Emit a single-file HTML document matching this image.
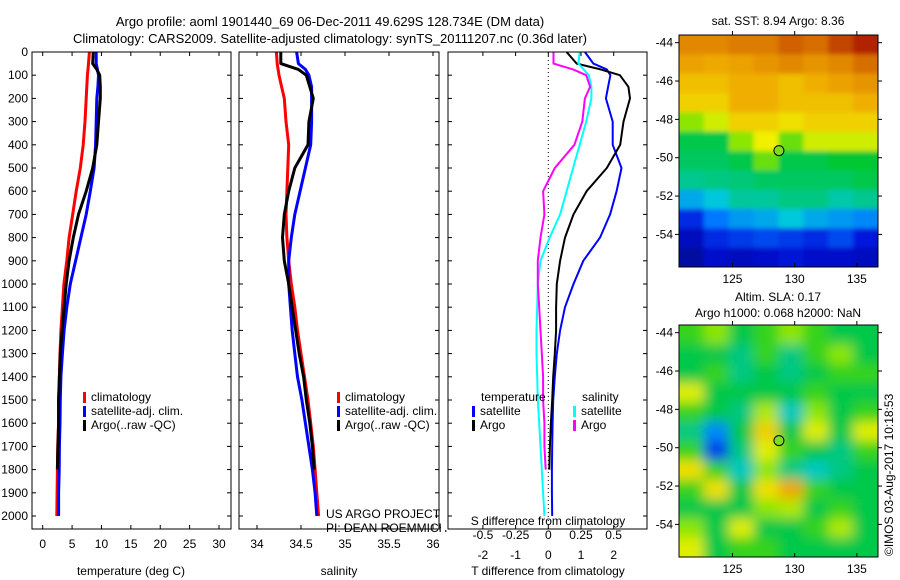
<!DOCTYPE html>
<html><head><meta charset="utf-8"><style>
body{margin:0;background:#fff;}
svg{display:block;font-family:"Liberation Sans",sans-serif;}
text{fill:#000;}
</style></head><body>
<svg id="fig" width="900" height="580" viewBox="0 0 900 580" xmlns="http://www.w3.org/2000/svg">
<defs>
<filter id="blur1" x="-5%" y="-5%" width="110%" height="110%"><feGaussianBlur stdDeviation="2.5"/></filter>
<filter id="blur2" x="-5%" y="-5%" width="110%" height="110%"><feGaussianBlur stdDeviation="6"/></filter>
<clipPath id="clip1"><rect x="679" y="35" width="199" height="232"/></clipPath>
<clipPath id="clip2"><rect x="679" y="325" width="199" height="232"/></clipPath>
</defs>
<text x="330" y="26" font-size="13" text-anchor="middle">Argo profile: aoml 1901440_69 06-Dec-2011 49.629S 128.734E (DM data)</text>
<text x="330" y="43" font-size="13" text-anchor="middle">Climatology: CARS2009. Satellite-adjusted climatology: synTS_20111207.nc (0.36d later)</text>
<text x="326" y="518" font-size="12">US ARGO PROJECT</text>
<text x="326" y="532" font-size="12">PI: DEAN ROEMMICH</text>
<g id="g1"></g>
<g id="g2"></g>
<g id="g3"></g>
<g id="m1"></g>
<g id="m2"></g>
<text x="778" y="25" font-size="12" text-anchor="middle">sat. SST: 8.94 Argo: 8.36</text>
<text x="778" y="301" font-size="12" text-anchor="middle">Altim. SLA: 0.17</text>
<text x="778" y="317" font-size="12" text-anchor="middle">Argo h1000: 0.068 h2000: NaN</text>
<text x="0" y="0" font-size="12" transform="translate(893,556) rotate(-90)">©IMOS 03-Aug-2017 10:18:53</text>
</svg>
<script>
const depths=[0,50,75,100,150,200,300,400,500,600,700,800,900,1000,1100,1200,1300,1400,1500,1600,1700,1800,1900,2000];
const tClim=[7.95,7.8,7.7,7.6,7.5,7.4,7.2,6.9,6.4,5.7,5.1,4.5,4.1,3.6,3.35,3.1,2.95,2.85,2.7,2.7,2.55,2.5,2.45,2.4];
const tSat=[9.1,9.1,9.3,9.5,9.4,9.2,9.1,9.0,8.75,8.1,7.4,6.5,5.6,4.7,4.1,3.65,3.35,3.1,3.0,2.95,2.85,2.8,2.7,2.7];
const tArgo=[8.6,8.5,9.2,9.7,9.8,9.8,9.5,9.2,8.5,7.4,6.1,5.2,4.5,4.0,3.65,3.3,3.0,2.85,2.7,2.7,2.6,2.5,null,null];
const sClim=[34.22,34.23,34.24,34.25,34.28,34.31,34.33,34.36,34.35,34.34,34.33,34.34,34.36,34.39,34.43,34.46,34.5,34.54,34.58,34.61,34.64,34.66,34.68,34.7];
const sSat=[34.45,34.47,34.55,34.59,34.62,34.62,34.62,34.61,34.55,34.49,34.43,34.39,34.36,34.36,34.38,34.4,34.43,34.46,34.51,34.55,34.59,34.63,34.66,34.68];
const sArgo=[34.27,34.27,34.47,34.56,34.6,34.64,34.59,34.58,34.43,34.36,34.31,34.29,34.31,34.36,34.4,34.44,34.48,34.53,34.56,34.6,34.63,34.65,null,null];
const dTSat=[1.12,1.38,1.79,1.9,1.83,1.76,1.97,1.97,2.24,2.09,1.89,1.58,1.07,0.77,0.51,0.36,0.26,0.2,0.15,0.13,0.12,0.11,0.11,0.12];
const dTArgo=[0.56,0.87,1.6,2.19,2.45,2.5,2.3,2.2,1.79,1.17,0.77,0.51,0.36,0.26,0.24,0.24,0.2,0.15,0.12,0.08,0.05,0.03,null,null];
const dSSat=[0.24,0.23,0.27,0.31,0.33,0.33,0.29,0.24,0.19,0.14,0.09,0.01,-0.06,-0.08,-0.085,-0.09,-0.09,-0.085,-0.08,-0.07,-0.06,-0.05,-0.04,-0.03];
const dSArgo=[0.04,0.04,0.19,0.29,0.32,0.28,0.26,0.2,0.05,-0.04,-0.03,-0.06,-0.08,-0.08,-0.07,-0.06,-0.05,-0.04,-0.04,-0.03,-0.03,-0.02,null,null];
const depthTicks=[0,100,200,300,400,500,600,700,800,900,1000,1100,1200,1300,1400,1500,1600,1700,1800,1900,2000];
const tTicks=[0,5,10,15,20,25,30];
const sTicks=[34,34.5,35,35.5,36];
const sTickLabels=["34","34.5","35","35.5","36"];
const dTTicks=[-2,-1,0,1,2];
const dSTicks=[-0.5,-0.25,0,0.25,0.5];
const dSTickLabels=["-0.5","-0.25","0","0.25","0.5"];
const lonTicks=[125,130,135];
const latTicks=[-44,-46,-48,-50,-52,-54];
const sstGrid=[
[0.8,0.8,0.82,0.82,0.86,0.84,0.9,0.95],
[0.76,0.75,0.76,0.78,0.8,0.78,0.8,0.84],
[0.72,0.72,0.74,0.74,0.72,0.74,0.76,0.78],
[0.7,0.7,0.74,0.74,0.72,0.72,0.72,0.74],
[0.6,0.64,0.7,0.7,0.68,0.7,0.7,0.7],
[0.5,0.5,0.6,0.66,0.58,0.64,0.64,0.64],
[0.48,0.48,0.5,0.58,0.5,0.5,0.52,0.52],
[0.44,0.45,0.46,0.48,0.48,0.48,0.48,0.5],
[0.34,0.38,0.43,0.43,0.45,0.45,0.42,0.44],
[0.18,0.28,0.32,0.34,0.38,0.34,0.32,0.3],
[0.1,0.18,0.2,0.22,0.2,0.18,0.22,0.15],
[0.05,0.12,0.1,0.12,0.14,0.12,0.12,0.1]];
const slaGrid=[
[0.55,0.6,0.5,0.55,0.6,0.55,0.5,0.5],
[0.5,0.5,0.45,0.55,0.45,0.55,0.6,0.5],
[0.5,0.55,0.45,0.5,0.45,0.5,0.55,0.55],
[0.65,0.5,0.5,0.5,0.5,0.55,0.5,0.5],
[0.55,0.5,0.45,0.62,0.4,0.6,0.5,0.55],
[0.45,0.3,0.5,0.7,0.5,0.65,0.5,0.65],
[0.55,0.2,0.45,0.65,0.55,0.5,0.45,0.55],
[0.68,0.55,0.4,0.6,0.45,0.4,0.45,0.5],
[0.55,0.68,0.5,0.68,0.75,0.55,0.5,0.5],
[0.5,0.5,0.5,0.6,0.62,0.5,0.55,0.5],
[0.6,0.5,0.65,0.5,0.5,0.55,0.62,0.5],
[0.65,0.5,0.55,0.55,0.5,0.5,0.5,0.5]];
const argoLon=128.734, argoLat=-49.629;

const NS="http://www.w3.org/2000/svg";
function mk(parent,tag,attrs,txt){const e=document.createElementNS(NS,tag);for(const k in attrs)e.setAttribute(k,attrs[k]);if(txt!==undefined)e.textContent=txt;parent.appendChild(e);return e;}
const Y0=52,Y1=529;
const yD=d=>Y0+d*(516-52)/2000;

function frame(g,x0,x1,name){
  const r=mk(g,'rect',{x:x0,y:Y0,width:x1-x0,height:Y1-Y0,fill:'none',stroke:'#000','stroke-width':1});
  
  
}
function line(g,xs,xf,color,w,name){
  let pts=[];
  for(let i=0;i<depths.length;i++){if(xs[i]==null)continue;pts.push(xf(xs[i]).toFixed(1)+','+yD(depths[i]).toFixed(1));}
  const p=mk(g,'polyline',{points:pts.join(' '),fill:'none',stroke:color,'stroke-width':w,'stroke-linejoin':'round'});
  
  
}
function xTicks(g,vals,labels,xf,yb,name){
  vals.forEach((v,i)=>{const x=xf(v);
    mk(g,'line',{x1:x,x2:x,y1:Y1,y2:Y1-4,stroke:'#000'});mk(g,'line',{x1:x,x2:x,y1:Y0,y2:Y0+4,stroke:'#000'});
    const t=mk(g,'text',{x:x,y:yb,'font-size':12,'text-anchor':'middle'},labels[i]);
    
    
  });
}
function yTicks(g,x0,x1,labels){
  depthTicks.forEach(d=>{const y=yD(d);
    mk(g,'line',{x1:x0,x2:x0+4,y1:y,y2:y,stroke:'#000'});mk(g,'line',{x1:x1,x2:x1-4,y1:y,y2:y,stroke:'#000'});
    if(labels){const t=mk(g,'text',{x:x0-4,y:y+4,'font-size':12,'text-anchor':'end'},String(d));
      
      }
  });
}
function legend(g,x,y,items){
  items.forEach((it,i)=>{const yy=y+i*14;
    mk(g,'rect',{x:x,y:yy-9,width:3,height:11,fill:it[1]});
    const t=mk(g,'text',{x:x+8,y:yy,'font-size':12},it[0]);
    
    
  });
}
// Panel 1
const g1=document.getElementById('g1');
const xT=v=>42.7+v*(219-42.7)/30;
yTicks(g1,32,231,true);xTicks(g1,tTicks,tTicks.map(String),xT,548,'temperature-tick-label');
line(g1,tClim,xT,'#f00',3,'temperature-climatology-line');
line(g1,tSat,xT,'#00f',3,'temperature-satellite-line');
line(g1,tArgo,xT,'#000',3,'temperature-argo-line');
frame(g1,32,231,'temperature-axes');
legend(g1,83,401,[['climatology','#f00'],['satellite-adj. clim.','#00f'],['Argo(..raw -QC)','#000']]);
let t=mk(g1,'text',{x:131,y:575,'font-size':12,'text-anchor':'middle'},'temperature (deg C)');

// Panel 2
const g2=document.getElementById('g2');
const xS=v=>257+(v-34)*88;
yTicks(g2,239,439,false);xTicks(g2,sTicks,sTickLabels,xS,548,'salinity-tick-label');
line(g2,sClim,xS,'#f00',3,'salinity-climatology-line');
line(g2,sSat,xS,'#00f',3,'salinity-satellite-line');
line(g2,sArgo,xS,'#000',3,'salinity-argo-line');
frame(g2,239,439,'salinity-axes');
legend(g2,337,401,[['climatology','#f00'],['satellite-adj. clim.','#00f'],['Argo(..raw -QC)','#000']]);
t=mk(g2,'text',{x:339,y:575,'font-size':12,'text-anchor':'middle'},'salinity');

// Panel 3
const g3=document.getElementById('g3');
mk(g3,'rect',{x:441,y:Y0-1,width:207,height:Y1-Y0+2,fill:'#fff'});
const xDT=v=>548.3+v*32.7, xDS=v=>548.3+v*130.7;
yTicks(g3,448,647,false);xTicks(g3,dTTicks,dTTicks.map(String),xDT,559,'t-diff-tick-label');
dSTicks.forEach((v,i)=>{const tt=mk(g3,'text',{x:xDS(v),y:539,'font-size':12,'text-anchor':'middle'},dSTickLabels[i]);
  });
mk(g3,'line',{x1:548.3,x2:548.3,y1:Y0,y2:Y1,stroke:'#000','stroke-dasharray':'1,3'});
line(g3,dTSat,xDT,'#00f',2,'t-diff-satellite-line');
line(g3,dTArgo,xDT,'#000',2,'t-diff-argo-line');
line(g3,dSSat,xDS,'#0ff',2,'s-diff-satellite-line');
line(g3,dSArgo,xDS,'#f0f',2,'s-diff-argo-line');
frame(g3,448,647,'difference-axes');
t=mk(g3,'text',{x:481,y:401,'font-size':12},'temperature');
t=mk(g3,'text',{x:582,y:401,'font-size':12},'salinity');
legend(g3,472,415,[['satellite','#00f'],['Argo','#000']]);
legend(g3,573,415,[['satellite','#0ff'],['Argo','#f0f']]);
t=mk(g3,'text',{x:548,y:525,'font-size':12,'text-anchor':'middle'},'S difference from climatology');
t=mk(g3,'text',{x:548,y:575,'font-size':12,'text-anchor':'middle'},'T difference from climatology');
// Maps
const cmapStops=[[0,[0,0,130]],[0.15,[0,20,220]],[0.28,[0,120,255]],[0.38,[0,200,220]],[0.45,[0,200,130]],[0.52,[0,200,50]],[0.6,[140,230,0]],[0.66,[240,240,0]],[0.74,[240,175,0]],[0.84,[215,110,0]],[1,[160,0,0]]];
function cmap(v){v=Math.max(0,Math.min(1,v));
  for(let i=1;i<cmapStops.length;i++){const a=cmapStops[i-1],b=cmapStops[i];
    if(v<=b[0]){const f=(v-a[0])/(b[0]-a[0]);return 'rgb('+a[1].map((c,k)=>Math.round(c+(b[1][k]-c)*f)).join(',')+')';}}
  return 'rgb(160,0,0)';}
function map(id,top,grid,name,blurId,clipId){
  const g=document.getElementById(id);
  const X0=679,X1=878,bot=top+232;
  const lonMin=120.7,lonMax=136.7,latTop=-43.6,latBot=-55.7;
  const xL=v=>X0+(v-lonMin)/(lonMax-lonMin)*(X1-X0), yL=v=>top+(v-latTop)/(latBot-latTop)*(bot-top);
  const rows=grid.length,cols=grid[0].length,cw=(X1-X0)/cols,ch=(bot-top)/rows;
  const cg=mk(g,'g',{'clip-path':'url(#'+clipId+')'});
  const bg=mk(cg,'g',{filter:'url(#'+blurId+')'});
  grid.forEach((row,r)=>row.forEach((v,c)=>{
    let x=X0+c*cw,y=top+r*ch,w=cw+0.5,h=ch+0.5;
    if(c===0){x-=12;w+=12;} if(c===cols-1){w+=12;}
    if(r===0){y-=12;h+=12;} if(r===rows-1){h+=12;}
    const cell=mk(bg,'rect',{x:x,y:y,width:w,height:h,fill:cmap(v)});
    
    
  }));
  const fr=mk(g,'rect',{x:X0,y:top,width:X1-X0,height:bot-top,fill:'none',stroke:'#000'});
  
  lonTicks.forEach(v=>{const x=xL(v);mk(g,'line',{x1:x,x2:x,y1:bot,y2:bot-4,stroke:'#000'});mk(g,'line',{x1:x,x2:x,y1:top,y2:top-4,stroke:'#000'});
    const tt=mk(g,'text',{x:x,y:bot+16,'font-size':12,'text-anchor':'middle'},String(v));});
  latTicks.forEach(v=>{const y=yL(v);mk(g,'line',{x1:X0,x2:X0-4,y1:y,y2:y,stroke:'#000'});mk(g,'line',{x1:X1,x2:X1+4,y1:y,y2:y,stroke:'#000'});
    const tt=mk(g,'text',{x:X0-6,y:y+4,'font-size':12,'text-anchor':'end'},String(v));});
  const dot=mk(g,'circle',{cx:xL(argoLon),cy:yL(argoLat),r:5,fill:'#7fdc1e',stroke:'#000','stroke-width':1});
  
}
map('m1',35,sstGrid,'sst','blur1','clip1');
map('m2',325,slaGrid,'sla','blur2','clip2');
</script>
</body></html>
